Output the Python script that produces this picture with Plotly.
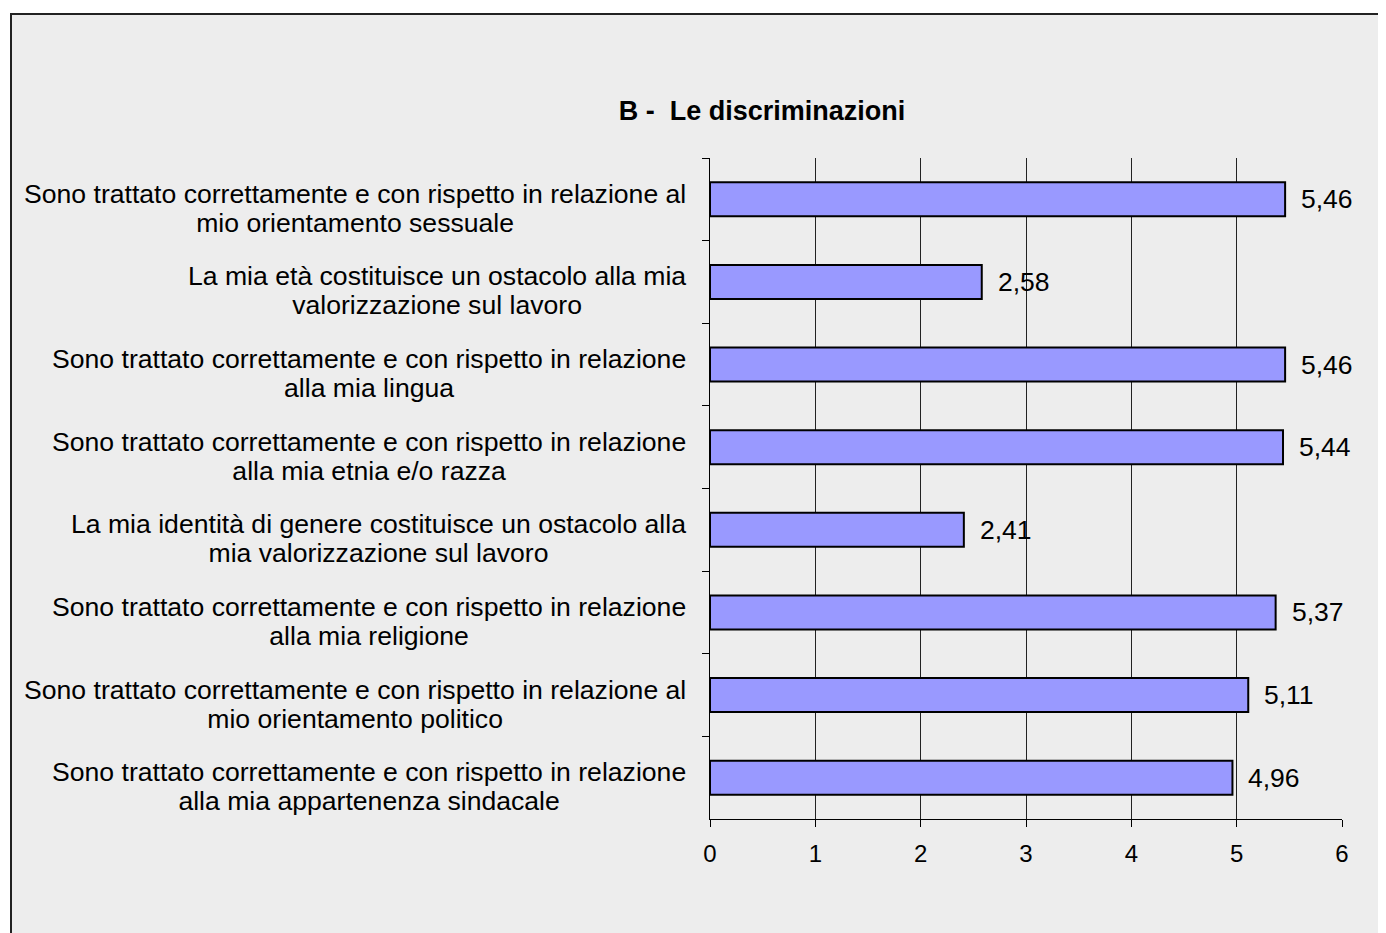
import plotly.graph_objects as go

categories = [
    "Sono trattato correttamente e con rispetto in relazione al<br>mio orientamento sessuale",
    "La mia età costituisce un ostacolo alla mia<br>valorizzazione sul lavoro",
    "Sono trattato correttamente e con rispetto in relazione<br>alla mia lingua",
    "Sono trattato correttamente e con rispetto in relazione<br>alla mia etnia e/o razza",
    "La mia identità di genere costituisce un ostacolo alla<br>mia valorizzazione sul lavoro",
    "Sono trattato correttamente e con rispetto in relazione<br>alla mia religione",
    "Sono trattato correttamente e con rispetto in relazione al<br>mio orientamento politico",
    "Sono trattato correttamente e con rispetto in relazione<br>alla mia appartenenza sindacale",
]
values = [5.46, 2.58, 5.46, 5.44, 2.41, 5.37, 5.11, 4.96]
x_ticks = [0, 1, 2, 3, 4, 5, 6]
title_text = "B -  Le discriminazioni"

FONT = "Arial, Liberation Sans, sans-serif"
W, H = 1386, 933
OFF = 8  # page body margin
L, R, T, B = 710 - OFF, 44 + OFF, 158 - OFF, 114 + OFF
pw, ph = W - L - R, H - T - B

fig = go.Figure()
fig.add_trace(go.Bar(
    y=categories, x=values, orientation="h",
    marker=dict(color="#9999FF", line=dict(color="black", width=2)),
    hoverinfo="skip",
))

annotations = []
for c, v in zip(categories, values):
    lines = c.split("<br>")
    styled = "<br>".join(f'<span style="font-size:26.6px">{ln}</span>' for ln in lines)
    annotations.append(dict(
        x=0, xref="paper", y=c, yref="y", text=styled, showarrow=False,
        xanchor="right", yanchor="middle", align="center", xshift=-22, yshift=-9,
        font=dict(family=FONT, size=22.3, color="black"),
    ))
    annotations.append(dict(
        x=v, xref="x", y=c, yref="y", text=f"{v:.2f}".replace(".", ","),
        showarrow=False, xanchor="left", yanchor="middle", xshift=14,
        font=dict(family=FONT, size=26.5, color="black"),
    ))

frame = dict(
    type="rect", xref="paper", yref="paper",
    x0=(11 - OFF - L) / pw, x1=(W + 20 - L) / pw,
    y0=-(B + 20) / ph, y1=(ph + T - (14 - OFF)) / ph,
    fillcolor="#ededed", line=dict(color="#222222", width=2), layer="below",
)

fig.update_layout(
    width=W, height=H,
    margin=dict(l=L, r=R, t=T, b=B),
    paper_bgcolor="white", plot_bgcolor="rgba(0,0,0,0)",
    showlegend=False,
    bargap=0.59,
    shapes=[frame],
    annotations=annotations,
    title=dict(text=title_text, x=(762 - OFF) / W, xref="container", xanchor="center",
               y=1 - (111 - OFF) / H, yref="container", yanchor="middle",
               font=dict(family=FONT, size=27, color="black", weight="bold")),
    xaxis=dict(range=[0, 6], tickvals=x_ticks, showgrid=True, gridcolor="#222222",
               gridwidth=1, showline=True, linecolor="black", linewidth=1,
               ticks="outside", ticklen=7, tickcolor="black", zeroline=False,
               ticklabelstandoff=6,
               tickfont=dict(family=FONT, size=24, color="black")),
    yaxis=dict(autorange="reversed", showticklabels=False, showline=True,
               linecolor="black", linewidth=1, ticks="outside", tickson="boundaries",
               ticklen=7, tickcolor="black", showgrid=False),
)

fig.write_html("out.html")
